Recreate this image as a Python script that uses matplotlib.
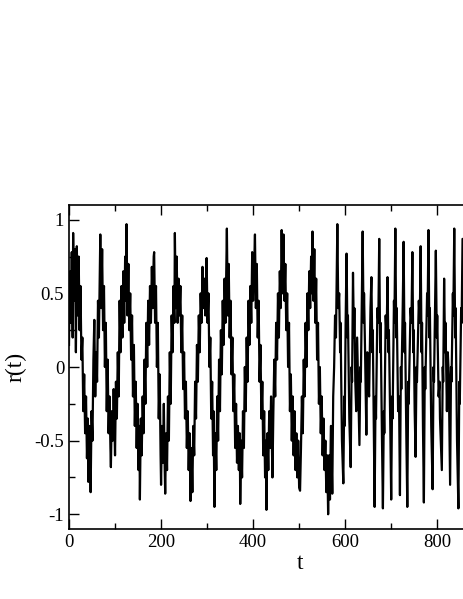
import numpy as np
import matplotlib
matplotlib.use("Agg")
import matplotlib.pyplot as plt
from matplotlib.ticker import MultipleLocator

plt.rcParams['font.family'] = ['Liberation Serif', 'DejaVu Serif']
plt.rcParams['axes.unicode_minus'] = False

# time points and r(t) values (slow part, then fast part)
t_slow = [0, 2, 4, 6, 8, 9, 11, 13, 15, 17, 19, 21, 23, 25, 27,
          29, 31, 33, 35, 37, 39, 41, 42, 44, 46, 47, 49, 51, 53,
          55, 57, 59, 61, 63, 65, 67, 68, 70, 72, 74, 76,
          78, 80, 82, 84, 86, 88, 90, 91, 93, 95, 97, 100, 102,
          104, 106, 108, 110, 112, 114, 116, 118, 120, 122, 124, 125, 127, 129, 131,
          133, 135, 137, 139, 141, 143, 145, 147, 149, 151, 153, 154, 156, 158,
          160, 162, 164, 166, 168, 170, 172, 174, 176, 178, 180, 182, 184, 185, 187,
          189, 191, 193, 195, 197, 199, 200, 202, 204, 206, 208, 209, 211,
          213, 215, 217, 219, 221, 223, 225, 227, 229, 230, 232, 234, 236, 238,
          240, 242, 244, 246, 248, 250, 252, 254, 256, 258, 260, 262, 264, 266, 268,
          270, 272, 274, 276, 278, 280, 282, 284, 286, 288, 290, 292, 294, 296, 299, 301,
          303, 305, 307, 309, 311, 313, 314, 316, 318, 320, 322,
          324, 326, 328, 330, 332, 334, 336, 338, 340, 342, 343, 345, 347, 349,
          351, 353, 355, 357, 359, 361, 363, 365, 367, 369, 371, 372, 374, 376, 378,
          380, 382, 384, 386, 388, 390, 392, 394, 396, 398, 400, 402, 404, 406, 408,
          410, 412, 414, 416, 418, 420, 422, 424, 426, 428, 429, 431, 433, 435, 437, 439, 442,
          444, 446, 448, 450, 452, 454, 456, 458, 460, 462, 464, 466, 468, 470,
          472, 474, 476, 478, 480, 482, 484, 486, 488, 490, 492, 494, 496, 498, 500, 502, 504,
          506, 508, 510, 512, 514, 516, 518, 520, 522, 524, 526, 528, 529, 531, 533,
          535, 537, 539, 541, 543, 545, 547, 549, 551, 553, 555, 557, 559, 561, 563, 565, 567,
          569, 572, 574, 576, 578, 580, 583, 585]
r_slow = [0.15, 0.65, 0.3, 0.78, 0.2, 0.91, 0.45, 0.8, 0.1, 0.82, 0.35, 0.75, 0.25, 0.55, 0.05,
          0.2, -0.3, -0.05, -0.45, -0.2, -0.62, -0.35, -0.78, -0.4, -0.6, -0.85, -0.3, -0.5, 0.05,
          0.32, -0.2, 0.1, -0.1, 0.45, 0.2, 0.65, 0.9, 0.4, 0.8, 0.25, 0.55,
          0.0, 0.3, -0.3, 0.05, -0.45, -0.2, -0.55, -0.68, -0.3, -0.5, -0.15, -0.6, -0.1,
          -0.35, 0.1, -0.2, 0.45, 0.1, 0.55, 0.2, 0.65, 0.3, 0.75, 0.45, 0.97, 0.35, 0.7, 0.25,
          0.5, 0.05, 0.35, -0.2, 0.15, -0.4, -0.1, -0.55, -0.25, -0.7, -0.4, -0.9, -0.35, -0.6,
          -0.2, -0.45, 0.05, -0.25, 0.3, 0.0, 0.45, 0.15, 0.55, 0.3, 0.68, 0.4, 0.75, 0.78, 0.3,
          0.55, 0.0, 0.3, -0.35, -0.05, -0.6, -0.8, -0.4, -0.65, -0.25, -0.7, -0.86, -0.45,
          -0.7, -0.2, -0.5, 0.1, -0.25, 0.35, 0.1, 0.55, 0.3, 0.91, 0.4, 0.75, 0.3, 0.6,
          0.35, 0.55, 0.1, 0.35, -0.15, 0.1, -0.35, -0.1, -0.55, -0.3, -0.7, -0.45, -0.91, -0.55, -0.85,
          -0.4, -0.6, -0.1, -0.35, 0.15, -0.1, 0.35, 0.1, 0.5, 0.3, 0.68, 0.4, 0.6, 0.35, 0.74, 0.3,
          0.5, 0.0, 0.2, -0.35, -0.1, -0.6, -0.3, -0.95, -0.45, -0.7, -0.2,
          -0.5, 0.05, -0.3, 0.25, -0.05, 0.45, 0.15, 0.6, 0.3, 0.75, 0.94, 0.35, 0.7, 0.2,
          0.45, -0.05, 0.2, -0.3, -0.05, -0.55, -0.25, -0.65, -0.4, -0.7, -0.45, -0.93, -0.5, -0.75, -0.3,
          -0.55, 0.0, -0.3, 0.2, -0.1, 0.45, 0.15, 0.55, 0.3, 0.78, 0.45, 0.65, 0.9, 0.4, 0.7,
          0.2, 0.45, -0.1, 0.15, -0.35, -0.1, -0.6, -0.3, -0.75, -0.5, -0.97, -0.45, -0.7, -0.3, -0.55, -0.2, -0.75,
          -0.3, 0.05, -0.2, 0.3, 0.05, 0.5, 0.2, 0.65, 0.4, 0.93, 0.5, 0.9, 0.45, 0.7,
          0.25, 0.5, 0.0, 0.3, -0.3, -0.05, -0.5, -0.2, -0.6, -0.3, -0.7, -0.45, -0.75, -0.5, -0.82, -0.84, -0.55,
          -0.2, -0.45, 0.05, -0.2, 0.3, 0.0, 0.5, 0.25, 0.65, 0.4, 0.75, 0.5, 0.92, 0.45, 0.8,
          0.3, 0.6, 0.05, 0.3, -0.25, 0.0, -0.45, -0.2, -0.6, -0.35, -0.7, -0.5, -0.85, -0.6, -1.0, -0.6, -0.9,
          -0.4, -0.86, -0.2, 0.0, 0.35, 0.2, 0.97, 0.4]

t_fast = [587, 589, 590, 593, 596, 598, 599, 601, 603, 605, 606, 609, 612, 614, 615, 617,
          619, 620, 622, 624, 626, 627, 631, 633, 634, 638, 640, 641, 643, 646, 648, 649,
          652, 655, 657, 659, 660, 664, 666, 667, 670, 672, 674, 676, 677, 680, 682, 684,
          685, 688, 690, 692, 694, 695, 698, 700, 702, 703, 706, 707, 709, 711, 712, 715,
          717, 719, 721, 722, 725, 727, 729, 730, 733, 735, 737, 738, 742, 744, 746, 748,
          749, 751, 753, 755, 756, 760, 762, 764, 766, 767, 769, 771, 773, 774, 778, 779,
          781, 783, 784, 787, 790, 792, 793, 797, 799, 800, 803, 805, 806, 810, 812, 813,
          815, 817, 818, 821, 823, 825, 828, 830, 831, 834, 835, 837, 839, 840, 843, 846,
          848, 849, 852, 853, 855, 858]
r_fast = [0.5, 0.1, 0.3, -0.5, -0.79, -0.2, -0.4, 0.3, 0.77, 0.2, 0.35, -0.35, -0.68, 0.0, -0.1, 0.64,
          0.2, 0.4, -0.1, -0.3, 0.2, 0.05, -0.53, 0.0, -0.1, 0.92, 0.3, 0.5, 0.15, -0.46, 0.1, -0.05,
          -0.2, 0.4, 0.61, 0.1, 0.25, -0.95, -0.2, -0.35, 0.4, 0.3, 0.87, 0.1, 0.3, -0.5, -0.96, -0.3,
          -0.45, 0.35, 0.2, 0.61, 0.1, 0.25, -0.4, -0.9, -0.2, -0.35, 0.45, 0.3, 0.94, 0.2, 0.4, -0.3,
          -0.2, -0.87, 0.0, -0.15, 0.4, 0.85, 0.1, 0.3, -0.5, -0.95, -0.1, -0.25, 0.4, 0.3, 0.78, 0.1,
          0.25, -0.3, -0.61, 0.0, -0.1, 0.45, 0.3, 0.82, 0.1, 0.3, -0.4, -0.92, 0.0, -0.15, 0.5, 0.35,
          0.93, 0.2, 0.4, -0.4, -0.83, 0.0, -0.1, 0.79, 0.2, 0.35, -0.2, -0.1, -0.35, -0.7, 0.0, -0.1,
          0.6, 0.1, 0.3, -0.3, 0.1, -0.05, -0.8, 0.0, -0.1, 0.5, 0.35, 0.94, 0.2, 0.4, -0.5, -0.96,
          -0.1, -0.25, 0.4, 0.3, 0.87, 0.3]

t = np.array(t_slow + t_fast)
r = np.array(r_slow + r_fast)

fig = plt.figure(figsize=(4.63, 5.99), dpi=100)
# the original picture is cropped at the right, so the axes stop at the edge
ax = fig.add_axes([69/463, 70/599, 394/463, 324/599])

ax.plot(t, r, color="black", lw=1.6)

ax.set_xlim(0, 856)
ax.set_ylim(-1.1, 1.1)
ax.xaxis.set_major_locator(MultipleLocator(200))
ax.xaxis.set_minor_locator(MultipleLocator(100))
ax.yaxis.set_minor_locator(MultipleLocator(0.25))
ax.set_yticks([-1, -0.5, 0, 0.5, 1])
ax.set_yticklabels(["-1", "-0.5", "0", "0.5", "1"])

ax.tick_params(which="both", direction="in", top=True, right=False, labelsize=13.5, width=1.0)
ax.tick_params(which="major", length=7)
ax.tick_params(which="minor", length=4)
for s in ax.spines.values():
    s.set_linewidth(1.2)
ax.spines["right"].set_visible(False)

ax.set_xlabel("t", fontsize=17)
ax.xaxis.set_label_coords(0.586, -0.075)
ax.set_ylabel("r(t)", fontsize=17, labelpad=6)

plt.savefig("out.png", dpi=100)
